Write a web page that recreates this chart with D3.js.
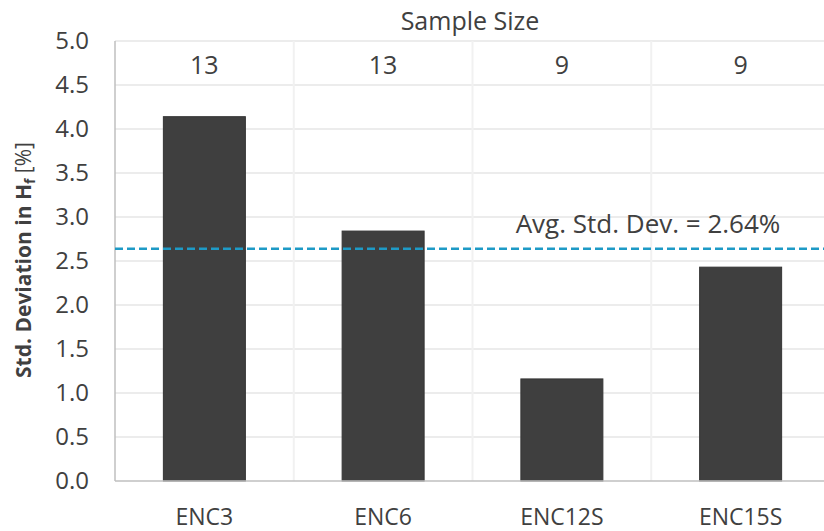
<!DOCTYPE html>
<html>
<head>
<meta charset="utf-8">
<script src="https://cdn.jsdelivr.net/npm/d3@7"></script>
<style>
  html, body { margin: 0; padding: 0; background: #fff; }
  svg { display: block; font-family: "Open Sans", "Noto Sans", sans-serif; }
</style>
</head>
<body>
<svg id="chart" width="824" height="531"></svg>
<script>
// Standard deviation of H_f per enclosure configuration
const categories = ["ENC3", "ENC6", "ENC12S", "ENC15S"];
const stdDev = [4.14, 2.84, 1.16, 2.43];
const sampleSize = [13, 13, 9, 9];
const avgStdDev = 2.64;
const yTicks = [0.0, 0.5, 1.0, 1.5, 2.0, 2.5, 3.0, 3.5, 4.0, 4.5, 5.0];

const svg = d3.select("#chart");
const margin = { left: 115, right: 830, top: 41, bottom: 481 };

const x = d3.scaleBand()
  .domain(categories)
  .range([margin.left, margin.right])
  .paddingInner(0)
  .paddingOuter(0);

const y = d3.scaleLinear().domain([0, 5]).range([margin.bottom, margin.top]);

const barW = 82;
const gridColor = "#ececec";
const textColor = "#404040";

// horizontal gridlines
svg.append("g")
  .selectAll("line")
  .data(yTicks.filter(d => d > 0))
  .join("line")
  .attr("x1", margin.left).attr("x2", margin.right)
  .attr("y1", d => y(d)).attr("y2", d => y(d))
  .attr("stroke", gridColor).attr("stroke-width", 2);

// vertical separators between categories
svg.append("g")
  .selectAll("line")
  .data(categories.slice(1))
  .join("line")
  .attr("x1", d => x(d)).attr("x2", d => x(d))
  .attr("y1", margin.top).attr("y2", margin.bottom)
  .attr("stroke", "#f1f1f1").attr("stroke-width", 2);

// bars
svg.append("g")
  .selectAll("rect")
  .data(categories)
  .join("rect")
  .attr("x", d => x(d) + x.bandwidth() / 2 - barW / 2)
  .attr("width", barW)
  .attr("y", (d, i) => y(stdDev[i]))
  .attr("height", (d, i) => y(0) - y(stdDev[i]))
  .attr("fill", "#3f3f3f")
  .attr("stroke", "#353535")
  .attr("stroke-width", 1);

// axis lines
svg.append("line")
  .attr("x1", margin.left).attr("x2", margin.left)
  .attr("y1", margin.top).attr("y2", margin.bottom)
  .attr("stroke", "#bfbfbf").attr("stroke-width", 1.5);
svg.append("line")
  .attr("x1", margin.left).attr("x2", margin.right)
  .attr("y1", margin.bottom).attr("y2", margin.bottom)
  .attr("stroke", "#bfbfbf").attr("stroke-width", 1.5);

// y tick labels
const yAxis = d3.axisLeft(y)
  .tickValues(yTicks)
  .tickFormat(d3.format(".1f"))
  .tickSize(0)
  .tickPadding(0);
const yg = svg.append("g")
  .attr("transform", `translate(${margin.left - 26},0)`)
  .call(yAxis);
yg.select(".domain").remove();
yg.selectAll("text")
  .attr("fill", textColor)
  .style("font-size", "24px")
  .style("font-family", "'Open Sans', sans-serif");

// x category labels
const xAxis = d3.axisBottom(x).tickSize(0).tickPadding(0);
const xg = svg.append("g")
  .attr("transform", `translate(0,${margin.bottom + 28})`)
  .call(xAxis);
xg.select(".domain").remove();
xg.selectAll("text")
  .attr("fill", textColor)
  .style("font-size", "23px")
  .style("font-family", "'Open Sans', sans-serif");

// sample size row
svg.append("text")
  .attr("x", 470).attr("y", 30)
  .attr("text-anchor", "middle")
  .attr("fill", textColor)
  .style("font-size", "25px")
  .text("Sample Size");

svg.append("g")
  .selectAll("text")
  .data(categories)
  .join("text")
  .attr("x", d => x(d) + x.bandwidth() / 2)
  .attr("y", 74)
  .attr("text-anchor", "middle")
  .attr("fill", textColor)
  .style("font-size", "25px")
  .text((d, i) => sampleSize[i]);

// average line
svg.append("line")
  .attr("x1", margin.left).attr("x2", margin.right)
  .attr("y1", y(avgStdDev)).attr("y2", y(avgStdDev))
  .attr("stroke", "#1e9ac6")
  .attr("stroke-width", 2.5)
  .attr("stroke-dasharray", "8,4");

svg.append("text")
  .attr("x", 648).attr("y", y(avgStdDev) - 16)
  .attr("text-anchor", "middle")
  .attr("fill", textColor)
  .style("font-size", "26px")
  .text(`Avg. Std. Dev. = ${avgStdDev.toFixed(2)}%`);

// y axis title
const yt = svg.append("text")
  .attr("transform", "translate(31,260) rotate(-90)")
  .attr("text-anchor", "middle")
  .attr("fill", textColor)
  .style("font-size", "21px");
yt.append("tspan").style("font-weight", "bold").text("Std. Deviation in H");
yt.append("tspan").style("font-weight", "bold").style("font-size", "14px")
  .attr("dy", 4).text("f");
yt.append("tspan").attr("dy", -4).text(" [%]");
</script>
</body>
</html>
